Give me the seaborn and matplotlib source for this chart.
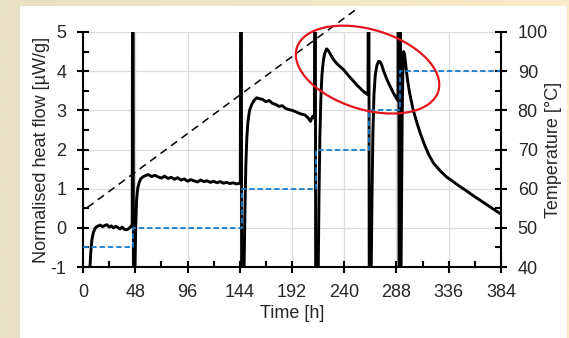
import numpy as np
import pandas as pd
import matplotlib
matplotlib.use("Agg")
import matplotlib.pyplot as plt
import seaborn as sns
from matplotlib.patches import Ellipse, Rectangle
from matplotlib.transforms import ScaledTranslation
from matplotlib.ticker import MultipleLocator

# ---------------- data ----------------
seg1_t = [5.5, 6.4, 7.2, 8.2, 9.5, 11, 12.5, 14, 16, 18, 20, 22, 24, 26, 28, 30, 32, 34, 36, 38, 40, 42, 44, 45.2]
seg1_hf = [-1.6, -1.0, -0.6, -0.3, -0.12, -0.02, 0.03, 0.05, 0.07, 0.03, 0.06, 0.08, 0.02, 0.05, 0.0, 0.04, 0.01, -0.03, 0.02, -0.04, -0.05, -0.02, 0.03, 0.08]
spike1_t = [45.6, 46.0, 46.4, 47.2]
spike1_hf = [8, 8, -3, -3]
seg2_t = [47.8, 48.4, 49.2, 50.2, 51.5, 53, 55, 57, 60, 63, 66, 69, 72, 75, 78, 81, 84, 87, 90, 93, 96, 99, 102, 105, 108, 111, 114, 117, 120, 123, 126, 129, 132, 135, 138, 141, 144.5]
seg2_hf = [-1.0, 0.0, 0.7, 1.0, 1.15, 1.25, 1.3, 1.33, 1.36, 1.31, 1.34, 1.3, 1.27, 1.32, 1.26, 1.29, 1.24, 1.28, 1.22, 1.25, 1.19, 1.23, 1.2, 1.17, 1.22, 1.18, 1.2, 1.16, 1.19, 1.15, 1.18, 1.14, 1.16, 1.13, 1.15, 1.12, 1.14]
spike2_t = [145.0, 145.4, 145.8, 147.3]
spike2_hf = [8, 8, -3, -3]
seg3_t = [148.0, 148.8, 149.6, 150.5, 151.5, 153, 155, 157, 159.5, 162, 165, 168, 171, 174, 177, 180, 183, 186, 189, 192, 195, 198, 201, 204, 207, 209, 211, 212.6]
seg3_hf = [-1.0, 0.5, 1.6, 2.3, 2.7, 3.0, 3.15, 3.25, 3.32, 3.3, 3.28, 3.22, 3.25, 3.18, 3.15, 3.1, 3.12, 3.05, 3.02, 3.0, 2.97, 2.93, 2.9, 2.88, 2.8, 2.72, 2.85, 2.8]
spike3_t = [213.0, 213.4, 213.8, 215.4]
spike3_hf = [8, 8, -3, -3]
seg4_t = [216.1, 216.8, 217.6, 218.5, 219.5, 220.7, 222, 223.8, 225.5, 227.5, 230, 233, 236, 239, 242, 245, 248, 251, 254, 257, 260, 261.8]
seg4_hf = [-1.0, 0.8, 2.3, 3.3, 3.9, 4.25, 4.45, 4.57, 4.52, 4.42, 4.3, 4.2, 4.12, 4.05, 3.95, 3.85, 3.76, 3.66, 3.58, 3.5, 3.43, 3.4]
spike4_t = [262.2, 262.6, 263.0, 264.2]
spike4_hf = [8, 8, -3, -3]
seg5_t = [264.8, 265.5, 266.3, 267.3, 268.5, 270, 271.5, 273, 274.5, 276.5, 279, 282, 285, 288, 289.4]
seg5_hf = [-1.0, 0.8, 2.4, 3.4, 3.9, 4.15, 4.25, 4.24, 4.15, 3.98, 3.8, 3.62, 3.45, 3.3, 3.25]
spike5_t = [289.7, 290.0, 290.4, 290.9, 291.1, 291.4, 291.7]
spike5_hf = [8, 8, -3, -3, 8, 8, -3]
seg6_t = [292.2, 292.7, 293.2, 293.8, 294.5, 295.3, 296.5, 298, 300, 303, 306, 310, 314, 318, 322, 328, 334, 340, 346, 352, 358, 364, 370, 376, 380, 384]
seg6_hf = [-1.0, 1.0, 2.8, 3.9, 4.5, 4.45, 4.15, 3.8, 3.45, 3.05, 2.75, 2.4, 2.1, 1.85, 1.65, 1.46, 1.3, 1.18, 1.06, 0.95, 0.83, 0.72, 0.61, 0.5, 0.43, 0.35]

temp_time = [0, 46.2, 46.2, 146, 146, 214, 214, 262.4, 262.4, 291.2, 291.2, 384]
temp_c = [45, 45, 50, 50, 60, 60, 70, 70, 80, 80, 90, 90]

trend_time = [4, 253]
trend_hf = [0.52, 5.62]

ellipse_time = 261.4
ellipse_hf = 4.04

time_ticks = [0, 48, 96, 144, 192, 240, 288, 336, 384]
hf_ticks = [-1, 0, 1, 2, 3, 4, 5]
hf_labels = ["-1", "0", "1", "2", "3", "4", "5"]
temp_ticks = [40, 50, 60, 70, 80, 90, 100]

x_label = "Time [h]"
y_label = "Normalised heat flow [µW/g]"
y2_label = "Temperature [°C]"

# ---------------- build tables ----------------
time_h = seg1_t + spike1_t + seg2_t + spike2_t + seg3_t + spike3_t + seg4_t + spike4_t + seg5_t + spike5_t + seg6_t
heat_flow = seg1_hf + spike1_hf + seg2_hf + spike2_hf + seg3_hf + spike3_hf + seg4_hf + spike4_hf + seg5_hf + spike5_hf + seg6_hf
df_hf = pd.DataFrame({"t": time_h, "hf": heat_flow})
df_t = pd.DataFrame({"t": temp_time, "T": temp_c})

# ---------------- style ----------------
sns.set_style("white")
plt.rcParams["font.family"] = ["Liberation Sans", "DejaVu Sans"]
plt.rcParams["axes.unicode_minus"] = False

W, H = 569, 338
fig = plt.figure(figsize=(W / 100, H / 100), dpi=100)

# background: beige gradient + white panel
bg = fig.add_axes([0, 0, 1, 1], zorder=-10)
grad = np.linspace(0, 1, 256)[None, :]
c0 = np.array([233, 224, 198]) / 255
c1 = np.array([250, 235, 201]) / 255
img = c0[None, None, :] * (1 - grad[..., None]) + c1[None, None, :] * grad[..., None]
bg.imshow(img, aspect="auto", extent=[0, 1, 0, 1])
bg.add_patch(Rectangle((20 / W, 0), 547 / W, (H - 6) / H, facecolor="white", edgecolor="none"))
bg.set_xlim(0, 1)
bg.set_ylim(0, 1)
bg.axis("off")

ax = fig.add_axes([83 / W, (H - 267) / H, (501 - 83) / W, (267 - 32) / H])
ax.set_facecolor("none")
ax2 = ax.twinx()

ax.grid(True, which="major", color="#dcdcdc", lw=0.9)
ax.set_axisbelow(True)

sns.lineplot(data=df_hf, x="t", y="hf", ax=ax, sort=False, estimator=None,
             color="black", lw=2.1)
sns.lineplot(data=df_t, x="t", y="T", ax=ax2, sort=False, estimator=None,
             color="#1a7cc9", lw=1.3, dashes=False, linestyle=(0, (3, 1.6)))

ax.plot(trend_time, trend_hf, color="black", lw=1.1, linestyle=(0, (5, 3.5)), clip_on=False)

ax.set_xlim(0, 384)
ax.set_ylim(-1, 5)
ax2.set_ylim(40, 100)

ax.set_xticks(time_ticks)
ax.xaxis.set_minor_locator(MultipleLocator(24))
ax.set_yticks(hf_ticks)
ax.set_yticklabels(hf_labels)
ax.yaxis.set_minor_locator(MultipleLocator(0.5))
ax2.set_yticks(temp_ticks)
ax2.yaxis.set_minor_locator(MultipleLocator(5))

fs = 13
for a in (ax, ax2):
    a.tick_params(which="major", direction="inout", length=9, width=1.5, labelsize=fs, color="black", pad=7.5)
    a.tick_params(which="minor", direction="in", length=4, width=1.5, color="black")
ax.tick_params(which="both", left=True, bottom=True, right=False, top=False)
ax2.tick_params(which="both", right=True, left=False, top=False, bottom=False)

ax.set_xlabel(x_label, fontsize=fs, labelpad=3)
ax.set_ylabel(y_label, fontsize=fs, labelpad=0)
ax2.set_ylabel(y2_label, fontsize=fs, labelpad=-2)

for s in ("top", "right"):
    ax.spines[s].set_visible(False)
for s in ("top", "left", "bottom"):
    ax2.spines[s].set_visible(False)
for s in ("left", "bottom"):
    ax.spines[s].set_linewidth(1.5)
    ax.spines[s].set_color("black")
ax2.spines["right"].set_linewidth(1.5)
ax2.spines["right"].set_color("black")

# red ellipse highlighting the peaks (size in inches, centre in data units)
tr = fig.dpi_scale_trans + ScaledTranslation(ellipse_time, ellipse_hf, ax.transData)
ell = Ellipse((0, 0), width=1.48, height=0.80, angle=-17, transform=tr,
              fill=False, edgecolor="#e3141b", lw=1.6, clip_on=False, zorder=10)
ax2.add_patch(ell)

fig.savefig("out.png", dpi=100)
